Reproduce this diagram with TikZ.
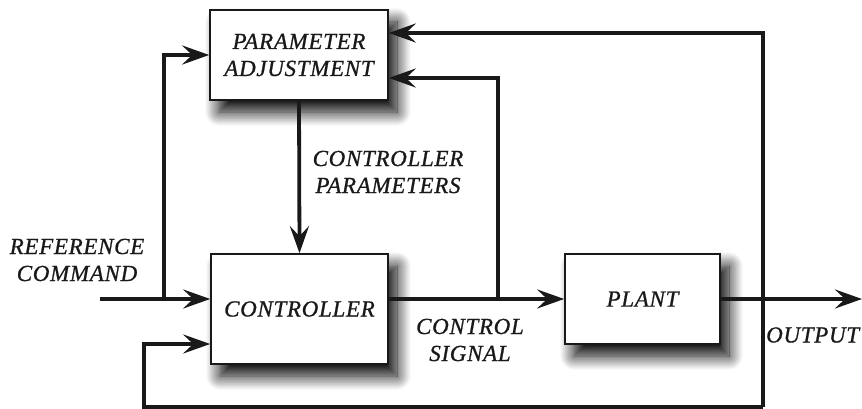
\documentclass[tikz,border=0pt]{standalone}
\usepackage{fontspec}
\setmainfont{Liberation Serif}
\usetikzlibrary{arrows.meta,shadows.blur}
\newcommand{\diafont}{\itshape\addfontfeatures{FakeBold=0.8,LetterSpace=3}\fontsize{23}{27}\selectfont}
\begin{document}
\begin{tikzpicture}[x=1pt,y=-1pt,
  lbl/.style={font=\diafont, align=center, inner sep=0pt, text=black!90},
  blk/.style={draw=black!90, line width=1.6pt, fill=white, minimum width=#1, inner sep=0pt,
    blur shadow={shadow xshift=9pt, shadow yshift=-12pt, shadow blur radius=14pt,
                 shadow blur steps=16, shadow opacity=100},
    font=\diafont, align=center, text=black!90},
  wire/.style={line width=3.8pt, draw=black!90},
  sig/.style={wire, -{Stealth[length=27pt,width=19pt,inset=10pt]}}
]
\useasboundingbox (0,0) rectangle (862,409);

% blocks
\node[blk=178pt, minimum height=90pt]  (pa)    at (299,55)    {PARAMETER\\ADJUSTMENT};
\node[blk=177pt, minimum height=110pt] (ctrl)  at (299.5,309) {CONTROLLER};
\node[blk=155pt, minimum height=90pt]  (plant) at (642.5,299) {PLANT};

% junctions and free ends
\coordinate (ref) at (100,299);
\coordinate (b1) at (164,299);
\coordinate (b2) at (498,299);
\coordinate (out) at (862,299);
\coordinate (ftop) at (763,33);
\coordinate (fbot) at (763,407);
\coordinate (fl) at (144,407);
\coordinate (fin) at (144,344);
\coordinate (ctop) at (498,78);

% reference command into controller and adjustment
\draw[sig] (ref) -- (ref -| ctrl.west);
\draw[sig] (b1) |- (pa.west);
% controller parameters
\draw[sig] (pa.south) -- (ctrl.north);
% control signal
\draw[sig] (ctrl.east |- plant.west) -- (plant.west);
\draw[sig] (b2) -- (ctop) -- (ctop -| pa.east);
% plant output
\draw[sig] (plant.east) -- (out);
% output feedback
\draw[sig] (fbot) -- (ftop) -- (ftop -| pa.east);
\draw[sig] (fbot) -- (fl) -- (fin) -- (fin -| ctrl.west);

% labels
\node[lbl] (lref) at (77,260) {REFERENCE\\COMMAND};
\node[lbl] (lpar) at (388,172) {CONTROLLER\\PARAMETERS};
\node[lbl] (lsig) at (470,340) {CONTROL\\SIGNAL};
\node[lbl, anchor=west] (lout) at (766,335) {OUTPUT};
\end{tikzpicture}
\end{document}
